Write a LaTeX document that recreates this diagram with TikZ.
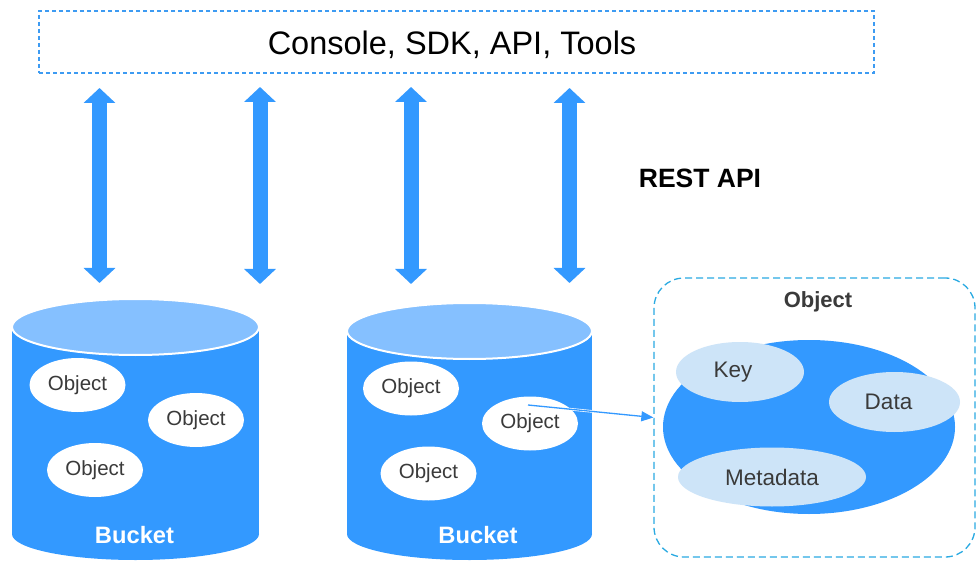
\documentclass[tikz,border=0pt]{standalone}
\usepackage{fontspec}
\setmainfont{Liberation Sans}
\usetikzlibrary{shapes.geometric,arrows.meta}
\definecolor{bmain}{HTML}{3399FF}
\definecolor{blight}{HTML}{85C0FF}
\definecolor{kfill}{HTML}{CDE4F8}
\definecolor{dtop}{HTML}{3D9BF2}
\definecolor{dpanel}{HTML}{2AAAE2}
\definecolor{tgray}{HTML}{3A3A3A}
\tikzset{
  bigarrow/.style={draw=bmain, line width=15pt, {Triangle[width=31pt,length=15pt]}-{Triangle[width=31pt,length=15pt]}},
  objell/.style={ellipse, fill=white, inner sep=0pt, minimum width=96pt, minimum height=54pt, text=tgray, font=\fontsize{20.5}{24}\selectfont},
  partell/.style={ellipse, fill=kfill, inner sep=0pt, text=tgray, font=\fontsize{22.5}{26}\selectfont},
  bodyfill/.style={fill=bmain, draw=none},
  topell/.style={ellipse, fill=blight, draw=white, line width=2pt, inner sep=0pt},
  bucketlabel/.style={text=white, font=\bfseries\fontsize{23.7}{28}\selectfont},
  linkarrow/.style={draw=bmain, line width=1.3pt, -{Triangle[width=10pt,length=12pt]}, preaction={draw=white, line width=2.6pt, -}},
}
\begin{document}
\begin{tikzpicture}[x=1pt,y=-1pt]
\useasboundingbox[fill=white] (0,0) rectangle (977,561);

% top box
\node[draw=dtop, line width=1.2pt, dash pattern=on 4pt off 3pt, minimum width=835pt, minimum height=62pt, inner sep=0pt, font=\fontsize{32.5}{38}\selectfont] (tools) at (456.5,42) {};
\node[font=\fontsize{32.5}{38}\selectfont, xscale=1.0] (toolstext) at (452,45) {Console, SDK, API, Tools};

% REST API
\node[font=\bfseries\fontsize{26.5}{30}\selectfont] (rest) at (700,178) {REST API};

% double arrows
\coordinate (a1t) at (99.5,88);  \coordinate (a1b) at (99.5,283);
\coordinate (a2t) at (260,87);   \coordinate (a2b) at (260,284);
\coordinate (a3t) at (411,87);   \coordinate (a3b) at (411,284);
\coordinate (a4t) at (569.5,88); \coordinate (a4b) at (569.5,283);
\draw[bigarrow] (a1t) -- (a1b);
\draw[bigarrow] (a2t) -- (a2b);
\draw[bigarrow] (a3t) -- (a3b);
\draw[bigarrow] (a4t) -- (a4b);

% bucket 1
\node[ellipse, bodyfill, inner sep=0pt, minimum width=247pt, minimum height=52pt] (b1bot) at (135.5,534) {};
\fill[bmain] (12,327) rectangle (259,534);
\node[topell, minimum width=247pt, minimum height=56pt] (b1top) at (135.5,327) {};
\node[objell] (b1o1) at (77.5,385) {Object};
\node[objell] (b1o2) at (196,420) {Object};
\node[objell] (b1o3) at (95,470) {Object};
\node[bucketlabel] (b1lab) at (134.5,535) {Bucket};

% bucket 2
\node[ellipse, bodyfill, inner sep=0pt, minimum width=245pt, minimum height=52pt] (b2bot) at (469.5,534) {};
\fill[bmain] (347,331) rectangle (592,534);
\node[topell, minimum width=245pt, minimum height=56pt] (b2top) at (469.5,331) {};
\node[objell] (b2o1) at (411,388.5) {Object};
\node[objell] (b2o2) at (530,423.5) {Object};
\node[objell] (b2o3) at (428.5,473.5) {Object};
\node[bucketlabel] (b2lab) at (478,535) {Bucket};

% object panel
\node[draw=dpanel, line width=1.3pt, dash pattern=on 7pt off 4pt, rounded corners=30pt, minimum width=321pt, minimum height=279pt, inner sep=0pt] (panel) at (814.5,417.5) {};
\node[text=tgray, font=\bfseries\fontsize{22}{26}\selectfont] (ptitle) at (818,302) {Object};
\node[ellipse, fill=bmain, inner sep=0pt, minimum width=292pt, minimum height=174pt] (pbig) at (809,427) {};
\node[partell, minimum width=128pt, minimum height=60pt] (pkey) at (740,372) {\hspace*{-14pt}Key};
\node[partell, minimum width=131pt, minimum height=60pt] (pdata) at (894.5,402) {\hspace*{-12pt}Data};
\node[partell, minimum width=188pt, minimum height=59pt] (pmeta) at (772,477) {Metadata};

% link
\coordinate (cstart) at (528,405);
\draw[linkarrow] (cstart) -- (panel.west);
\end{tikzpicture}
\end{document}
